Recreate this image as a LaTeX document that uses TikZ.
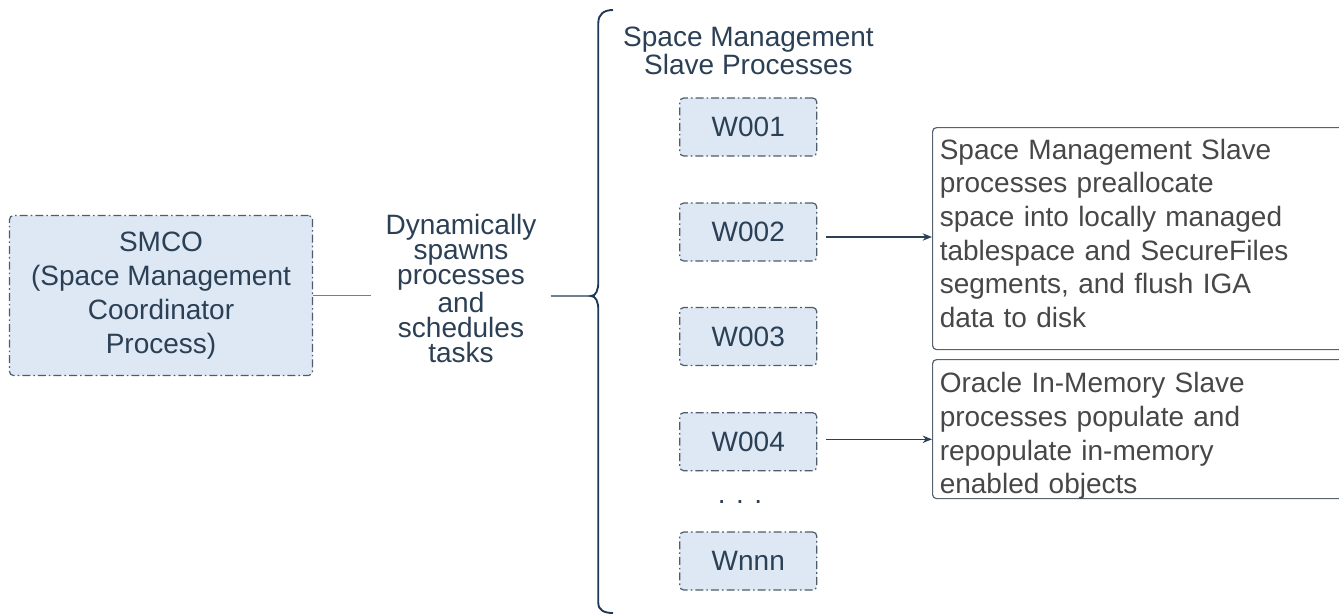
\documentclass[tikz,border=0pt]{standalone}
\usepackage{fontspec}
\setmainfont{Liberation Sans}
\usetikzlibrary{arrows.meta,calc}
\definecolor{boxfill}{HTML}{DDE8F4}
\definecolor{boxline}{HTML}{4E5D6C}
\definecolor{navy}{HTML}{2B3F55}
\definecolor{graytext}{HTML}{474747}
\definecolor{rline}{HTML}{56636F}
\definecolor{gline}{HTML}{6E7F8F}
\definecolor{bracecol}{HTML}{1F3856}
\begin{document}
\begin{tikzpicture}[x=0.75pt,y=-0.75pt,
  procbox/.style={draw=boxline, fill=boxfill, line width=0.9pt,
    dash pattern=on 6pt off 2.25pt on 1.2pt off 2.25pt, rounded corners=3pt,
    inner sep=0pt, text=navy, font=\fontsize{21}{25.5}\selectfont, align=center},
  wbox/.style={procbox, minimum width=102.75pt, minimum height=43.5pt},
  infobox/.style={draw=rline, line width=0.9pt, rounded corners=3pt,
    anchor=north west, minimum width=313.5pt, inner sep=0pt},
  infotext/.style={anchor=north west, inner sep=0pt, text=graytext,
    text width=290pt, align=left, font=\fontsize{21}{25.3}\selectfont},
  lbl/.style={text=navy, align=center, inner sep=0pt},
  conn/.style={draw=gline, line width=1.1pt},
  arr/.style={draw=navy, line width=1.1pt, -{Stealth[length=7pt,width=5.5pt]}},
]
\useasboundingbox (0,0) rectangle (1339,615);
\clip (0,0) rectangle (1339,615);

% coordinator
\node[procbox, minimum width=227.25pt, minimum height=120pt] (smco) at (161,295.5)
  {SMCO\\(Space Management\\Coordinator\\Process)};

% middle label
\node[lbl, inner xsep=10.5pt, font=\fontsize{21}{19}\selectfont] (dyn) at (461,288.5)
  {Dynamically\\spawns\\processes\\and\\schedules\\tasks};

% brace
\coordinate (tip) at (591,296);
\draw[conn] (smco.east) -- (smco.east -| dyn.west);
\draw[conn] (dyn.east |- tip) -- (tip);
\draw[draw=bracecol, line width=1.4pt]
  (613,10) .. controls (604,10) and (598.3,14) .. (598.3,23)
  -- (598.3,282)
  .. controls (598.3,290) and (596,296) .. (tip)
  .. controls (596,296) and (598.3,302) .. (598.3,310)
  -- (598.3,603)
  .. controls (598.3,610) and (604,613) .. (613,613);

% header
\node[lbl, font=\fontsize{21}{19.5}\selectfont] (hdr) at (748.5,51)
  {Space Management\\Slave Processes};

% slave processes
\node[wbox] (w1) at (748.25,127) {W001};
\node[wbox] (w2) at (748.25,232) {W002};
\node[wbox] (w3) at (748.25,336.5) {W003};
\node[wbox] (w4) at (748.25,441.7) {W004};
\node[lbl, anchor=base, font=\fontsize{21}{25.5}\selectfont] (dots) at (740,503) {. . .};
\node[wbox] (wn) at (748.25,561) {Wnnn};

% info boxes
\node[infobox, minimum height=166.5pt] (box1) at (932,127) {};
\node[infotext] (t1) at (939.5,138.5)
  {Space Management Slave\\processes preallocate\\space into locally managed\\tablespace and SecureFiles\\segments, and flush IGA\\data to disk};
\node[infobox, minimum height=104.25pt] (box2) at (932,359) {};
\node[infotext] (t2) at (939.5,372)
  {Oracle In-Memory Slave\\processes populate and\\repopulate in-memory\\enabled objects};

% arrows
\path ([shift={(9,5)}]w2.east) coordinate (a2);
\path ([shift={(9,-2.4)}]w4.east) coordinate (a4);
\draw[arr] (a2) -- (a2 -| box1.west);
\draw[arr] (a4) -- (a4 -| box2.west);
\end{tikzpicture}
\end{document}
